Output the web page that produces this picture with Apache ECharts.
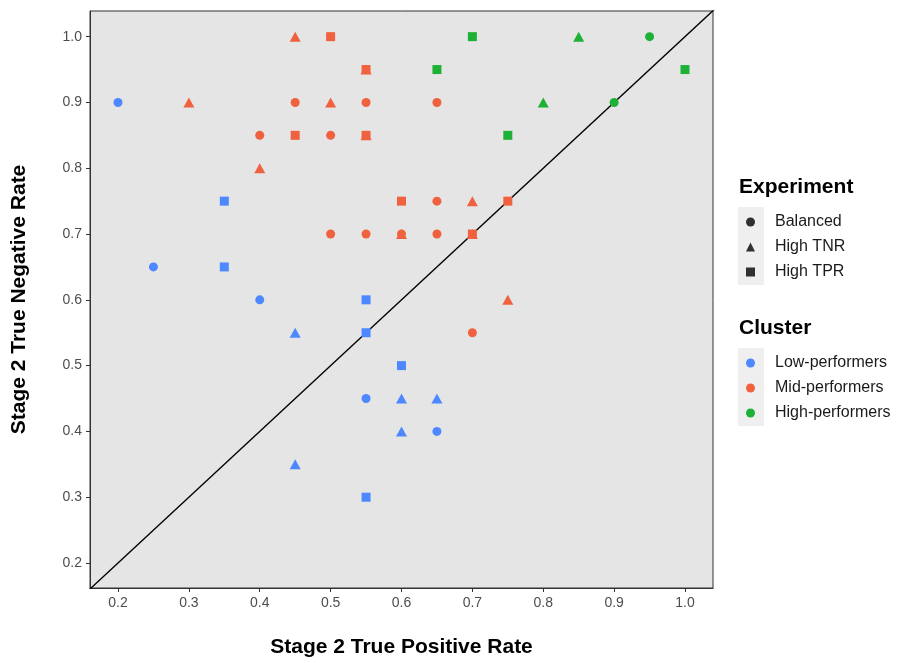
<!DOCTYPE html>
<html><head><meta charset="utf-8">
<script src="https://cdn.jsdelivr.net/npm/echarts@6/dist/echarts.min.js"></script>
<style>html,body{margin:0;padding:0;background:#fff}#c{width:897px;height:663px}</style>
</head><body><div id="c"></div>
<script>
const clusters = ['Low-performers', 'Mid-performers', 'High-performers'];
const clusterColors = ['#4D88FF', '#F0623F', '#1DB136'];
const experiments = ['Balanced', 'High TNR', 'High TPR'];
const experimentSymbols = ['circle', 'triangle', 'rect'];
const xTicks = [0.2, 0.3, 0.4, 0.5, 0.6, 0.7, 0.8, 0.9, 1.0];
const yTicks = [0.2, 0.3, 0.4, 0.5, 0.6, 0.7, 0.8, 0.9, 1.0];

// [TPR, TNR]
const lowBalanced = [[0.2,0.9],[0.25,0.65],[0.4,0.6],[0.55,0.45],[0.65,0.4]];
const lowHighTNR = [[0.45,0.55],[0.6,0.45],[0.65,0.45],[0.6,0.4],[0.45,0.35]];
const lowHighTPR = [[0.35,0.75],[0.35,0.65],[0.55,0.6],[0.55,0.55],[0.6,0.5],[0.55,0.3]];

const midBalanced = [[0.45,0.9],[0.55,0.9],[0.65,0.9],[0.4,0.85],[0.5,0.85],[0.65,0.75],[0.5,0.7],[0.55,0.7],[0.6,0.7],[0.65,0.7],[0.7,0.55]];
const midHighTNR = [[0.45,1.0],[0.3,0.9],[0.5,0.9],[0.4,0.8],[0.55,0.95],[0.55,0.85],[0.7,0.75],[0.6,0.7],[0.7,0.7],[0.75,0.6]];
const midHighTPR = [[0.5,1.0],[0.55,0.95],[0.45,0.85],[0.55,0.85],[0.6,0.75],[0.75,0.75],[0.7,0.7]];

const highBalanced = [[0.95,1.0],[0.9,0.9]];
const highHighTNR = [[0.85,1.0],[0.8,0.9]];
const highHighTPR = [[0.7,1.0],[0.65,0.95],[0.75,0.85],[1.0,0.95]];

const dataByCluster = [
  [lowBalanced, lowHighTNR, lowHighTPR],
  [midBalanced, midHighTNR, midHighTPR],
  [highBalanced, highHighTNR, highHighTPR]
];

const xMin = 0.1605, xMax = 1.0395, yMin = 0.162, yMax = 1.039;
const FONT = '"Liberation Sans", Arial, Helvetica, sans-serif';
const symbolSizes = { circle: 9, triangle: [11, 10], rect: 9 };

const series = [];
series.push({
  type: 'line', name: 'diag', data: [[0.1, 0.1], [1.1, 1.1]], clip: true,
  symbol: 'none', silent: true, z: 1,
  lineStyle: { color: '#000', width: 1.4 }
});
// draw circles first, then triangles, then squares
[0, 1, 2].forEach(e => {
  clusters.forEach((c, ci) => {
    series.push({
      type: 'scatter', name: c, data: dataByCluster[ci][e],
      symbol: experimentSymbols[e], symbolSize: symbolSizes[experimentSymbols[e]],
      itemStyle: { color: clusterColors[ci], opacity: 1 }, z: 3
    });
  });
});
experiments.forEach((e, i) => {
  series.push({ type: 'scatter', name: e, data: [], symbol: experimentSymbols[i], itemStyle: { color: '#000' } });
});

const legendText = { fontFamily: FONT, fontSize: 16, color: '#1A1A1A', lineHeight: 18, padding: [0, 0, 0, 15] };

const option = {
  animation: false,
  backgroundColor: '#fff',
  textStyle: { fontFamily: FONT },
  grid: { left: 90, right: 184, top: 11, bottom: 73, show: true, backgroundColor: '#E5E5E5', borderColor: '#333', borderWidth: 1 },
  xAxis: {
    type: 'value', min: xMin, max: xMax,
    name: 'Stage 2 True Positive Rate', nameLocation: 'middle', nameGap: 49,
    nameTextStyle: { fontFamily: FONT, fontSize: 21, fontWeight: 'bold', color: '#000' },
    axisLine: { show: true, lineStyle: { color: '#333', width: 1 } },
    splitLine: { show: false },
    axisTick: { show: true, customValues: xTicks, length: 4, lineStyle: { color: '#333' } },
    axisLabel: { customValues: xTicks, formatter: v => v.toFixed(1), color: '#4D4D4D', fontSize: 14, margin: 8, fontFamily: FONT }
  },
  yAxis: {
    type: 'value', min: yMin, max: yMax,
    name: 'Stage 2 True Negative Rate', nameLocation: 'middle', nameGap: 60,
    nameTextStyle: { fontFamily: FONT, fontSize: 21, fontWeight: 'bold', color: '#000' },
    axisLine: { show: true, lineStyle: { color: '#333', width: 1 } },
    splitLine: { show: false },
    axisTick: { show: true, customValues: yTicks, length: 4, lineStyle: { color: '#333' } },
    axisLabel: { customValues: yTicks, formatter: v => v.toFixed(1), color: '#4D4D4D', fontSize: 14, margin: 8, fontFamily: FONT }
  },
  legend: [
    {
      orient: 'vertical', left: 746, top: 213, padding: 0, itemGap: 7,
      itemWidth: 9, itemHeight: 9, selectedMode: false,
      data: experiments.map((e, i) => ({ name: e, icon: experimentSymbols[i], itemStyle: { color: '#000' } })),
      textStyle: legendText
    },
    {
      orient: 'vertical', left: 746, top: 354, padding: 0, itemGap: 7,
      itemWidth: 9, itemHeight: 9, selectedMode: false,
      data: clusters.map((c, i) => ({ name: c, icon: 'circle', itemStyle: { color: clusterColors[i] } })),
      textStyle: legendText
    }
  ],
  graphic: [
    { type: 'rect', shape: { x: 738, y: 207, width: 26, height: 78 }, style: { fill: '#EFEFEF' }, z: -1 },
    { type: 'rect', shape: { x: 738, y: 348, width: 26, height: 78 }, style: { fill: '#EFEFEF' }, z: -1 },
    { type: 'text', left: 739, top: 177, style: { text: 'Experiment', font: 'bold 21px ' + FONT, fill: '#000' } },
    { type: 'text', left: 739, top: 318, style: { text: 'Cluster', font: 'bold 21px ' + FONT, fill: '#000' } }
  ],
  series: series
};
const chart = echarts.init(document.getElementById('c'), null, { renderer: 'canvas' });
chart.setOption(option);
</script>
</body></html>
